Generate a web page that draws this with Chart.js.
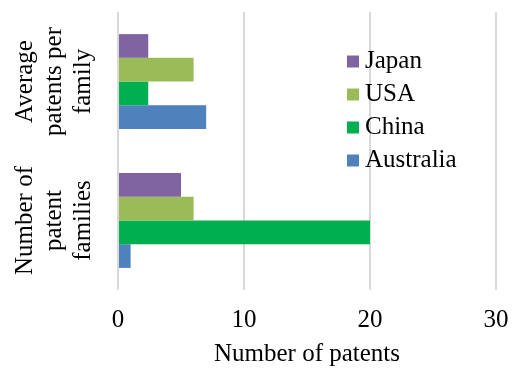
<!DOCTYPE html>
<html>
<head>
<meta charset="utf-8">
<script src="https://cdn.jsdelivr.net/npm/chart.js@4"></script>
<style>
  html, body { margin: 0; padding: 0; background: #fff; }
  canvas { display: block; }
</style>
</head>
<body>
<canvas id="c" width="513" height="370"></canvas>
<script>
// ---- data ----
const categories = ['Average patents per family', 'Number of patent families'];
const categoryLines = [['Average', 'patents per', 'family'], ['Number of', 'patent', 'families']];
const seriesNames = ['Japan', 'USA', 'China', 'Australia'];
const japanValues = [2.4, 5];
const usaValues = [6, 6];
const chinaValues = [2.4, 20];
const australiaValues = [7, 1];
const xTickValues = [0, 10, 20, 30];
const xAxisTitle = 'Number of patents';

const seriesColors = ['#8064A2', '#9BBB59', '#00B050', '#4F81BD'];
const seriesValues = [japanValues, usaValues, chinaValues, australiaValues];
const FONT = "'Liberation Serif', 'Times New Roman', serif";

const yLabelPlugin = {
  id: 'yLabels',
  afterDraw(chart) {
    const ctx = chart.ctx;
    const yScale = chart.scales.y;
    ctx.save();
    ctx.fillStyle = '#000';
    ctx.font = '25px ' + FONT;
    ctx.textAlign = 'center';
    ctx.textBaseline = 'middle';
    categoryLines.forEach((lines, i) => {
      const cy = yScale.getPixelForValue(i);
      ctx.save();
      ctx.translate(54, cy);
      ctx.rotate(-Math.PI / 2);
      lines.forEach((line, j) => {
        ctx.fillText(line, 0, (j - (lines.length - 1) / 2) * 29);
      });
      ctx.restore();
    });
    ctx.restore();
  }
};

const legendPlugin = {
  id: 'customLegend',
  afterDraw(chart) {
    const ctx = chart.ctx;
    const left = chart.chartArea.left + 229;
    ctx.save();
    ctx.font = '25px ' + FONT;
    ctx.textAlign = 'left';
    ctx.textBaseline = 'middle';
    chart.data.datasets.forEach((ds, i) => {
      const cy = 61.5 + i * 33;
      ctx.fillStyle = ds.backgroundColor;
      ctx.fillRect(left, cy - 6, 12, 12);
      ctx.fillStyle = '#000';
      ctx.fillText(ds.label, left + 18, cy);
    });
    ctx.restore();
  }
};

new Chart(document.getElementById('c'), {
  type: 'bar',
  data: {
    labels: categories,
    datasets: seriesNames.map((name, i) => ({
      label: name,
      data: seriesValues[i],
      backgroundColor: seriesColors[i],
      borderWidth: 0,
      categoryPercentage: 0.682,
      barPercentage: 1.0
    }))
  },
  options: {
    indexAxis: 'y',
    responsive: false,
    devicePixelRatio: 1,
    animation: false,
    layout: { padding: { left: 118, right: 17, top: 12, bottom: 0 } },
    plugins: {
      legend: { display: false },
      tooltip: { enabled: false }
    },
    scales: {
      x: {
        min: 0,
        max: 30,
        afterBuildTicks(scale) {
          scale.ticks = xTickValues.map(v => ({ value: v }));
        },
        afterFit(scale) {
          scale.height = 80;
          scale.paddingLeft = 13;
          scale.paddingRight = 13;
        },
        ticks: {
          color: '#000',
          font: { family: FONT, size: 25 },
          padding: 15.5
        },
        grid: { color: '#d9d9d9', lineWidth: 2, drawTicks: false },
        border: { display: false },
        title: {
          display: true,
          text: xAxisTitle,
          color: '#000',
          font: { family: FONT, size: 25 },
          padding: { top: 0, bottom: 1 }
        }
      },
      y: {
        display: false
      }
    }
  },
  plugins: [yLabelPlugin, legendPlugin]
});
</script>
</body>
</html>
